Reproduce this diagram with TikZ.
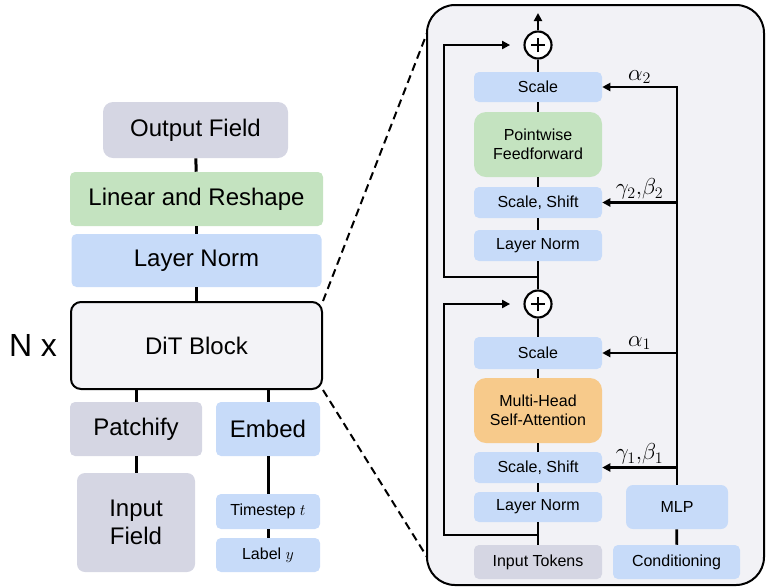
\documentclass[tikz,border=0pt]{standalone}
\usepackage{fontspec}
\setmainfont{Liberation Sans}
\usetikzlibrary{arrows.meta,positioning}

\definecolor{grayfill}{HTML}{D5D6E3}
\definecolor{greenfill}{HTML}{C4E3C0}
\definecolor{bluefill}{HTML}{C7DBF9}
\definecolor{orangefill}{HTML}{F7CA8B}
\definecolor{panelfill}{HTML}{F2F2F6}
\definecolor{ditfill}{HTML}{F3F3F7}
\newdimen\pix \pix=0.75pt

\begin{document}
\begin{tikzpicture}[
    x=0.75pt, y=-0.75pt,
    blk/.style={rounded corners=5\pix, inner sep=0pt, align=center},
    big/.style={blk, font=\fontsize{18}{21}\selectfont},
    small/.style={blk, font=\fontsize{12}{14}\selectfont},
    lnk/.style={line width=2.25pt},
    wire/.style={line width=2pt},
    arr/.style={wire, -{Triangle[length=6pt,width=6pt]}},
    coef/.style={above, inner sep=2\pix, font=\fontsize{17}{19}\selectfont},
    plus/.style={circle, draw, fill=white, line width=1.6pt, minimum size=27\pix, inner sep=0pt,
        path picture={
            \draw[line width=1.8pt] ([xshift=-7\pix]path picture bounding box.center) -- ([xshift=7\pix]path picture bounding box.center);
            \draw[line width=1.8pt] ([yshift=-7\pix]path picture bounding box.center) -- ([yshift=7\pix]path picture bounding box.center);
        }}
]
    \useasboundingbox (0,0) rectangle (767,587);

    % left: full model
    \node[big, fill=grayfill, minimum width=185\pix, minimum height=56\pix, rounded corners=10\pix] (out) at (195.5,130) {Output Field};
    \node[big, fill=greenfill, minimum width=253\pix, minimum height=54\pix] (lin) at (196.5,199) {Linear and Reshape};
    \node[big, fill=bluefill, minimum width=250\pix, minimum height=53\pix] (ln) at (196.5,260.5) {Layer Norm};
    \node[big, draw, line width=1.5pt, fill=ditfill, minimum width=251\pix, minimum height=87\pix, rounded corners=10\pix] (dit) at (196.5,345.5) {DiT Block};
    \node[font=\fontsize{24}{28}\selectfont] (nx) at (33,345) {N x};
    \node[big, fill=grayfill, minimum width=132\pix, minimum height=54\pix] (pat) at (136,429) {Patchify};
    \node[big, fill=bluefill, minimum width=104\pix, minimum height=54\pix] (emb) at (268,429) {Embed};
    \node[big, fill=grayfill, minimum width=118\pix, minimum height=99\pix, rounded corners=8\pix] (inp) at (136,522.5) {Input\\Field};
    \node[small, fill=bluefill, minimum width=104\pix, minimum height=35\pix] (ts) at (268,511.5) {Timestep $t$};
    \node[small, fill=bluefill, minimum width=104\pix, minimum height=34\pix] (lab) at (268,555) {Label $y$};

    \draw[lnk] (out) -- (lin);
    \draw[lnk] (lin) -- (ln);
    \draw[lnk] (ln) -- (dit);
    \draw[lnk] (pat.north) -- (pat.north |- dit.south);
    \draw[lnk] (emb.north) -- (emb.north |- dit.south);
    \draw[lnk] (pat) -- (inp);
    \draw[lnk] (emb) -- (ts);
    \draw[lnk] (ts) -- (lab);

    % right: inside one block
    \node[draw, line width=1.5pt, fill=panelfill, rounded corners=28\pix, minimum width=337\pix, minimum height=580\pix] (panel) at (595.5,295) {};
    \coordinate (zt) at (427,33);
    \coordinate (zb) at (427,557);
    \draw[line width=1.5pt, dash pattern=on 8\pix off 5\pix] (dit.north east) -- (zt);
    \draw[line width=1.5pt, dash pattern=on 8\pix off 5\pix] (dit.south east) -- (zb);

    \node[plus] (p2) at (538,45) {};
    \node[small, fill=bluefill, minimum width=128\pix, minimum height=30\pix] (sc2) at (538,87) {Scale};
    \node[small, fill=greenfill, minimum width=128\pix, minimum height=65\pix, rounded corners=12\pix] (ff) at (538,144.5) {Pointwise\\Feedforward};
    \node[small, fill=bluefill, minimum width=128\pix, minimum height=31\pix] (ss2) at (538,202.5) {Scale, Shift};
    \node[small, fill=bluefill, minimum width=128\pix, minimum height=31\pix] (ln2) at (538,245.5) {Layer Norm};
    \node[plus] (p1) at (538,304) {};
    \node[small, fill=bluefill, minimum width=128\pix, minimum height=32\pix] (sc1) at (538,353) {Scale};
    \node[small, fill=orangefill, minimum width=128\pix, minimum height=65\pix, rounded corners=12\pix] (mha) at (538,410.5) {Multi-Head\\Self-Attention};
    \node[small, fill=bluefill, minimum width=128\pix, minimum height=31\pix] (ss1) at (538,467.5) {Scale, Shift};
    \node[small, fill=bluefill, minimum width=128\pix, minimum height=30\pix] (ln1) at (538,507) {Layer Norm};
    \node[small, fill=grayfill, minimum width=128\pix, minimum height=34\pix] (tok) at (538,562) {Input Tokens};
    \node[small, fill=bluefill, minimum width=102\pix, minimum height=44\pix, rounded corners=7\pix] (mlp) at (677,507) {MLP};
    \node[small, fill=bluefill, minimum width=127\pix, minimum height=34\pix] (cond) at (676.5,562) {Conditioning};

    \draw[wire] (tok) -- (ln1);
    \draw[wire] (ln1) -- (ss1);
    \draw[wire] (ss1) -- (mha);
    \draw[wire] (mha) -- (sc1);
    \draw[wire] (sc1) -- (p1);
    \draw[wire] (p1) -- (ln2);
    \draw[wire] (ln2) -- (ss2);
    \draw[wire] (ss2) -- (ff);
    \draw[wire] (ff) -- (sc2);
    \draw[wire] (sc2) -- (p2);
    \coordinate (top) at (538,13);
    \draw[arr] (p2) -- (top);

    % residual paths
    \coordinate (j1) at (538,535);
    \coordinate (j2) at (538,277);
    \draw[arr, shorten >=10pt] (j1) -- ++(-94,0) |- (p1);
    \draw[arr, shorten >=10pt] (j2) -- ++(-94,0) |- (p2);

    % conditioning
    \draw[wire] (cond) -- (mlp);
    \draw[arr] (mlp.north) -- (mlp.north |- sc2.east) -- (sc2.east) node[coef, midway] {$\alpha_2$};
    \draw[arr] (mlp.north |- ss2.east) -- (ss2.east) node[coef, midway] {$\gamma_2{,}\beta_2$};
    \draw[arr] (mlp.north |- sc1.east) -- (sc1.east) node[coef, midway] {$\alpha_1$};
    \draw[arr] (mlp.north |- ss1.east) -- (ss1.east) node[coef, midway] {$\gamma_1{,}\beta_1$};
\end{tikzpicture}
\end{document}
